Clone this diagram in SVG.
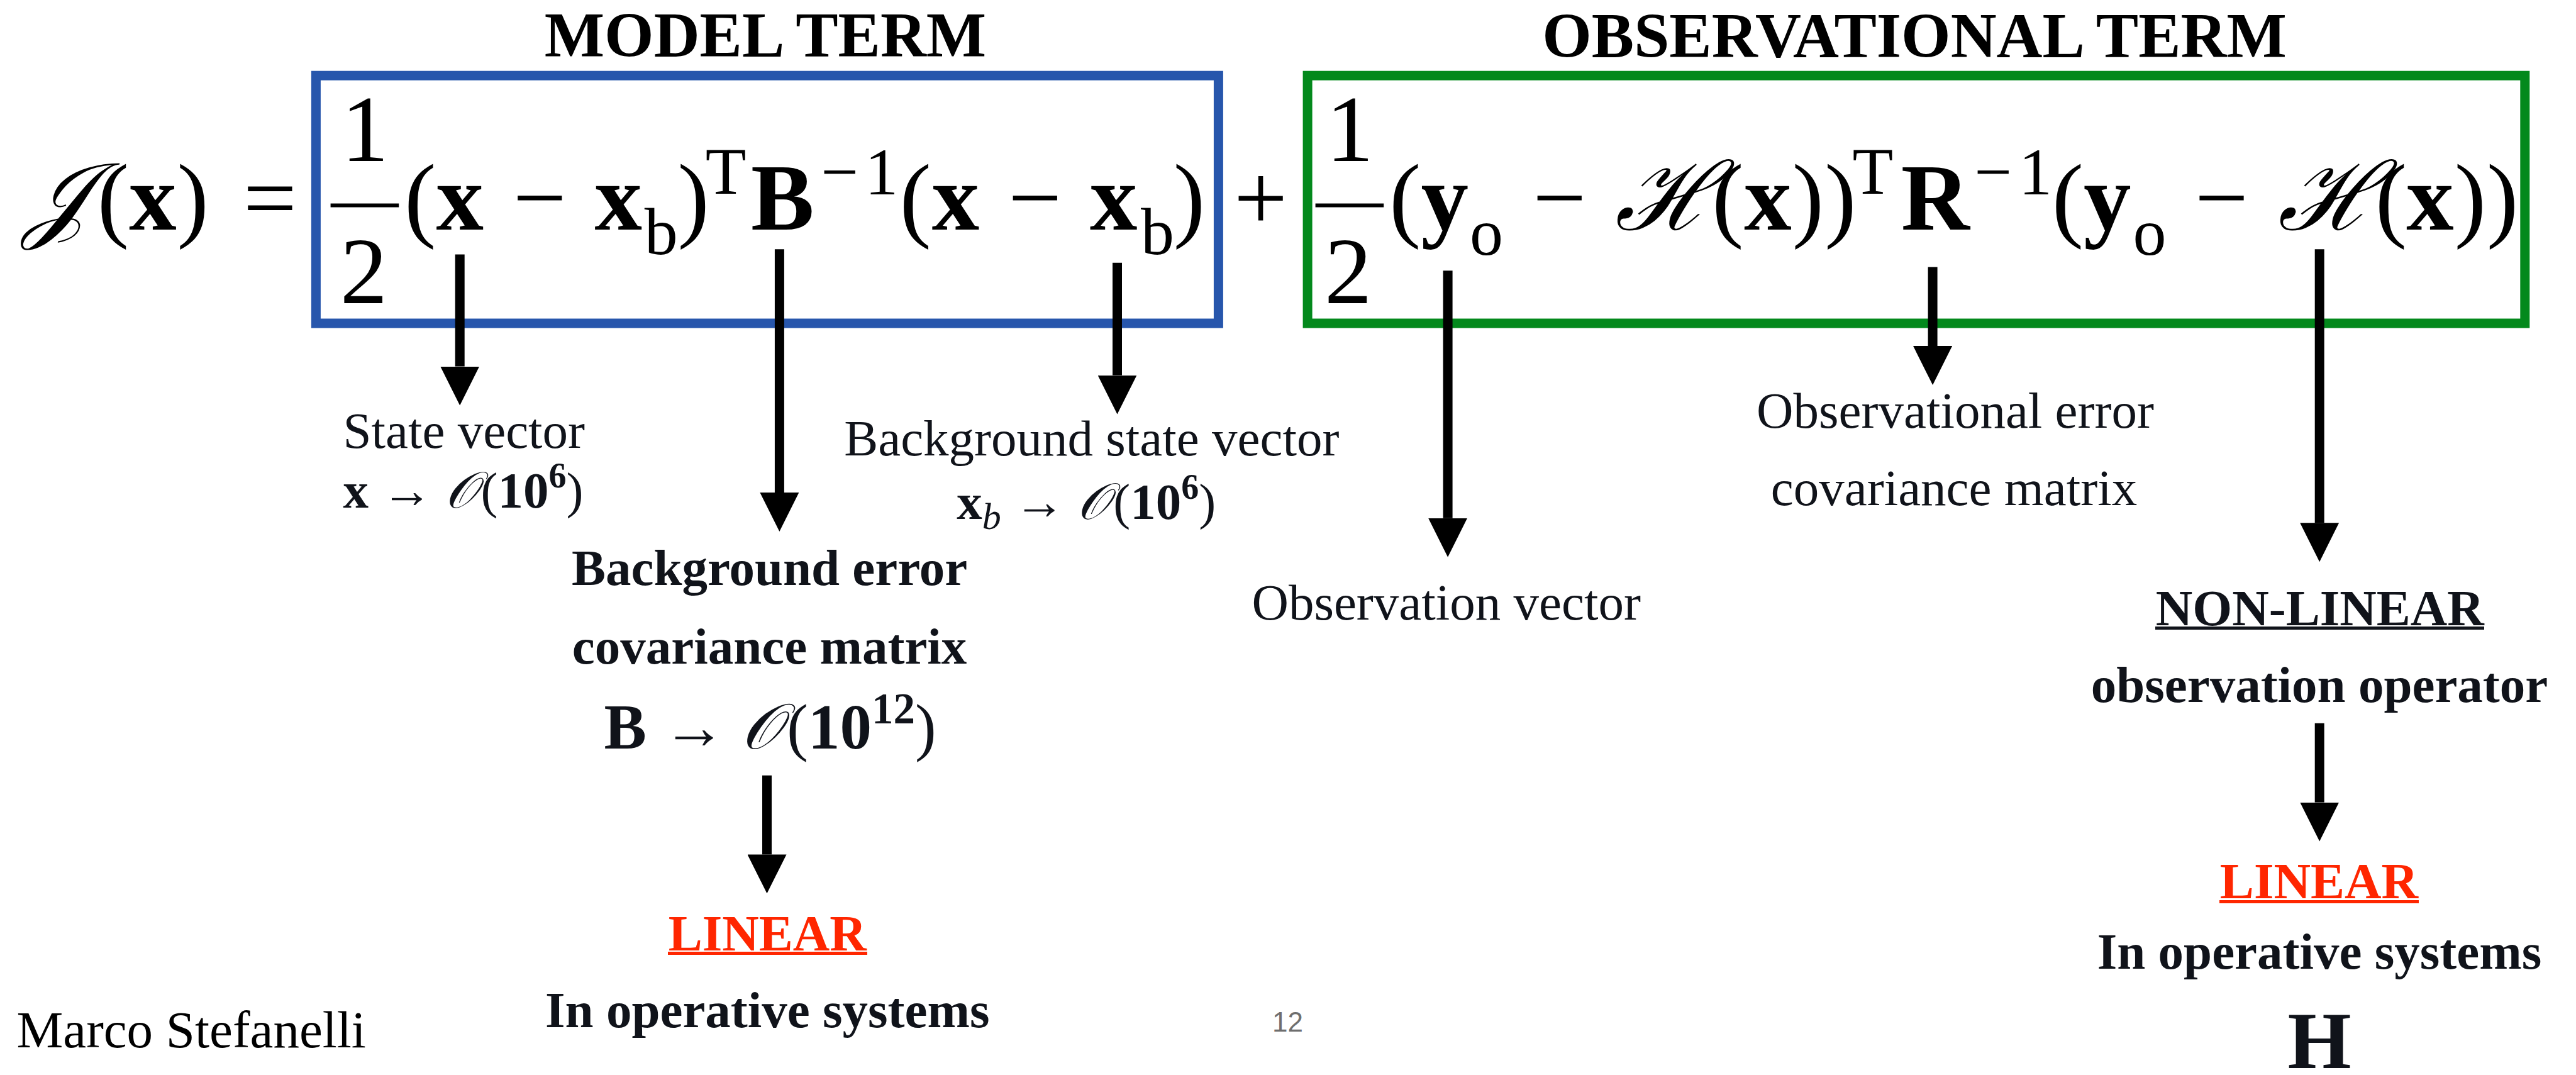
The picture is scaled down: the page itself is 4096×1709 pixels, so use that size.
<svg xmlns="http://www.w3.org/2000/svg" width="4096" height="1709" viewBox="0 0 4096 1709">
<style>
.eq{font-family:"Liberation Serif",serif;fill:#000;text-anchor:middle}
.m{font-size:151px}
.s{font-size:106px}
.b{font-weight:bold}
.scr{font-family:"DejaVu Serif","Liberation Serif",serif;font-style:italic}
.lab{font-family:"Liberation Serif",serif;font-size:81px;fill:#10131a}
.title{font-family:"Liberation Serif",serif;font-size:101px;font-weight:bold;text-anchor:middle;fill:#000}
.mid{text-anchor:middle}
.red{fill:#ff2600}
.box{fill:none;stroke-width:15}
.conn line{stroke:#000;stroke-width:15;marker-end:url(#ah)}
.bar{stroke:#000;stroke-width:6}
</style>
<defs>
<marker id="ah" markerUnits="userSpaceOnUse" markerWidth="62" markerHeight="62" refX="0" refY="30" orient="auto" viewBox="0 0 60 60">
<path d="M0,0 L60,30 L0,60 Z" fill="#000"/>
</marker>
</defs>
<rect width="4096" height="1709" fill="#fff"/>

<g id="title-model"><text class="title" x="1217" y="89.5">MODEL TERM</text></g>
<g id="title-obs"><text class="title" x="3044" y="91">OBSERVATIONAL TERM</text></g>

<g id="box-model"><rect class="box" x="502.4" y="120.2" width="1435" height="393.8" stroke="#2756ac"/></g>
<g id="box-obs"><rect class="box" x="2079.1" y="120.2" width="1935.7" height="393.8" stroke="#03891c"/></g>

<g id="equation" class="eq">
<text class="m scr" x="89.5" y="364.8">𝒥</text>
<text class="m" x="179.9" y="364.8">(</text>
<text class="m b" x="242.9" y="364.8">x</text>
<text class="m" x="306.7" y="364.8">)</text>
<text class="m" x="429.4" y="364.8">=</text>
<line class="bar" x1="525.6" y1="326.6" x2="634.2" y2="326.6"/>
<text class="m" x="580.3" y="256.2">1</text>
<text class="m" x="578.6" y="481.6">2</text>
<text class="m" x="668.2" y="364.8">(</text>
<text class="m b" x="731.2" y="364.8">x</text>
<text class="m" x="858" y="364.8">−</text>
<text class="m b" x="983.2" y="364.8">x</text>
<text class="s" x="1051.2" y="403.7">b</text>
<text class="m" x="1102.6" y="364.8">)</text>
<text class="s" x="1154" y="307.6">T</text>
<text class="m b" x="1244.3" y="364.8">B</text>
<text class="s" x="1335.5" y="309.2">−</text>
<text class="s" x="1401.8" y="309.2">1</text>
<text class="m" x="1455.7" y="364.8">(</text>
<text class="m b" x="1519.6" y="364.8">x</text>
<text class="m" x="1645.6" y="364.8">−</text>
<text class="m b" x="1770.7" y="364.8">x</text>
<text class="s" x="1840.4" y="403.7">b</text>
<text class="m" x="1891" y="364.8">)</text>
<text class="m" x="2004.5" y="364.8">+</text>
<line class="bar" x1="2091.6" y1="326.6" x2="2200.2" y2="326.6"/>
<text class="m" x="2146.3" y="256.2">1</text>
<text class="m" x="2143.8" y="481.6">2</text>
<text class="m" x="2234.2" y="364.8">(</text>
<text class="m b" x="2297.2" y="364.8">y</text>
<text class="s" x="2363.5" y="405.4">o</text>
<text class="m" x="2479.5" y="364.8">−</text>
<text class="m scr" x="2647.8" y="364.8">ℋ</text>
<text class="m" x="2747.3" y="364.8">(</text>
<text class="m b" x="2811.1" y="364.8">x</text>
<text class="m" x="2875" y="364.8">)</text>
<text class="m" x="2926.4" y="364.8">)</text>
<text class="s" x="2977.8" y="307.6">T</text>
<text class="m b" x="3077.2" y="364.8">R</text>
<text class="s" x="3169.3" y="309.2">−</text>
<text class="s" x="3236.4" y="309.2">1</text>
<text class="m" x="3287.8" y="364.8">(</text>
<text class="m b" x="3350.8" y="364.8">y</text>
<text class="s" x="3418" y="405.4">o</text>
<text class="m" x="3532.4" y="364.8">−</text>
<text class="m scr" x="3701.5" y="364.8">ℋ</text>
<text class="m" x="3801.8" y="364.8">(</text>
<text class="m b" x="3864" y="364.8">x</text>
<text class="m" x="3927.8" y="364.8">)</text>
<text class="m" x="3979.2" y="364.8">)</text>
</g>

<g id="connectors" class="conn">
<line x1="731.2" y1="404.6" x2="731.2" y2="582.5"/>
<line x1="1239.4" y1="396.3" x2="1239.4" y2="783"/>
<line x1="1776.5" y1="417.8" x2="1776.5" y2="596.6"/>
<line x1="2302.1" y1="430.3" x2="2302.1" y2="823.7"/>
<line x1="3073.1" y1="424.4" x2="3073.1" y2="550.1"/>
<line x1="3688.2" y1="396.3" x2="3688.2" y2="831.2"/>
<line x1="1219.5" y1="1232.7" x2="1219.5" y2="1358.4"/>
<line x1="3688.2" y1="1149.8" x2="3688.2" y2="1275.5"/>
</g>

<g id="label-state">
<text class="lab" x="545.5" y="712.1">State vector</text>
<text class="lab" x="545.5" y="806.6"><tspan class="b">x</tspan> → <tspan class="scr">𝒪</tspan><tspan dx="6">(</tspan><tspan class="b">10</tspan><tspan class="b" font-size="56" dy="-32">6</tspan><tspan dy="32">)</tspan></text>
</g>
<g id="label-bgstate">
<text class="lab" x="1521.2" y="723.7" style="text-anchor:start" dx="-179">Background state vector</text>
<text class="lab" x="1521.2" y="824.9"><tspan class="b">x</tspan><tspan font-style="italic" font-size="60" dy="16">b</tspan><tspan dy="-16"> → </tspan><tspan class="scr">𝒪</tspan><tspan dx="6">(</tspan><tspan class="b">10</tspan><tspan class="b" font-size="56" dy="-32">6</tspan><tspan dy="32">)</tspan></text>
</g>
<g id="label-bgerr">
<text class="lab b mid" x="1223.6" y="930.1">Background error</text>
<text class="lab b mid" x="1223.6" y="1054.5">covariance matrix</text>
<text class="lab mid" x="1224.5" y="1190.4" style="font-size:101px"><tspan class="b">B</tspan> → <tspan class="scr">𝒪</tspan><tspan dx="8">(</tspan><tspan class="b">10</tspan><tspan class="b" font-size="69" dy="-40">12</tspan><tspan dy="40">)</tspan></text>
</g>
<g id="label-linear-left">
<text class="lab b mid red" x="1220.3" y="1511.3">LINEAR</text>
<rect x="1062" y="1513" width="317" height="5" fill="#ff2600"/>
<text class="lab b mid" x="1220.3" y="1633.1">In operative systems</text>
</g>
<g id="label-obsvec">
<text class="lab" x="1990.4" y="984.9">Observation vector</text>
</g>
<g id="label-obserr">
<text class="lab mid" x="3109" y="679.8">Observational error</text>
<text class="lab mid" x="3107" y="803.3">covariance matrix</text>
</g>
<g id="label-nonlinear">
<text class="lab b mid" x="3688.7" y="994">NON-LINEAR</text>
<rect x="3427" y="996" width="523" height="5" fill="#10131a"/>
<text class="lab b mid" x="3688" y="1115.8">observation operator</text>
</g>
<g id="label-linear-right">
<text class="lab b mid red" x="3687.4" y="1428.4">LINEAR</text>
<rect x="3529" y="1431" width="317" height="5" fill="#ff2600"/>
<text class="lab b mid" x="3688" y="1540.3">In operative systems</text>
<text class="lab b mid" x="3688" y="1698" style="font-size:130px">H</text>
</g>
<g id="footer">
<text x="26.5" y="1664.6" font-family="Liberation Serif, serif" font-size="83" fill="#000">Marco Stefanelli</text>
<text x="2047.6" y="1639.8" font-family="Liberation Sans, sans-serif" font-size="44" fill="#6e6e6e" text-anchor="middle">12</text>
</g>
</svg>
